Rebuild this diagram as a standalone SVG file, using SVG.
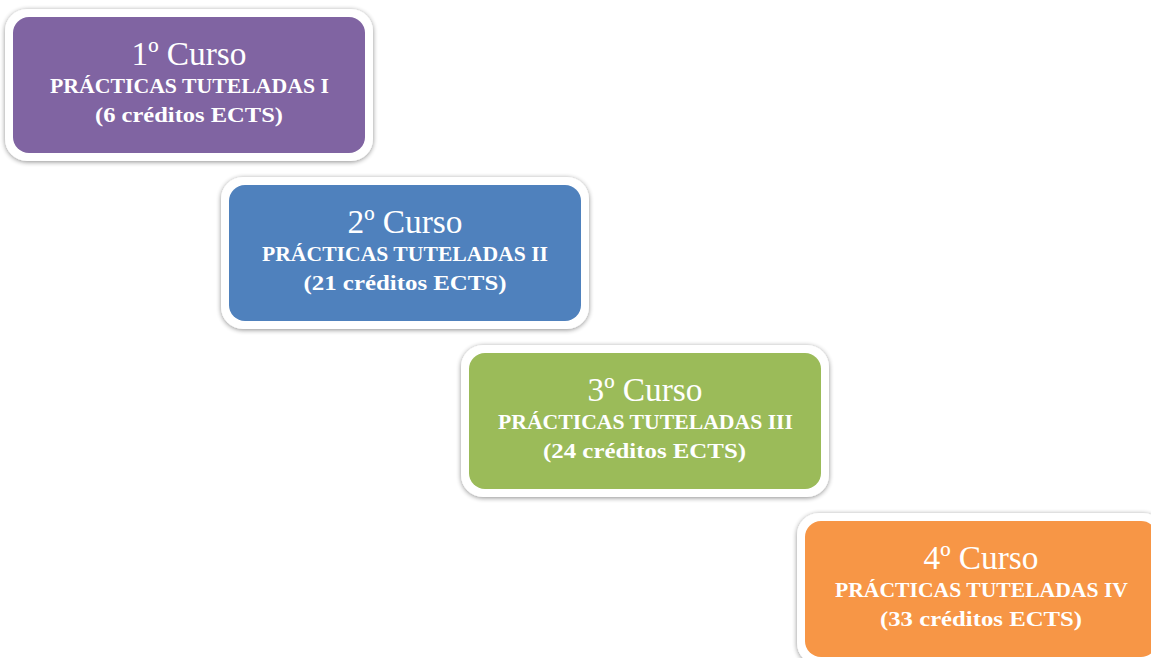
<svg xmlns="http://www.w3.org/2000/svg" width="1151" height="658" viewBox="0 0 1151 658">
<defs>
<filter id="sh" x="-10%" y="-20%" width="120%" height="140%">
<feGaussianBlur in="SourceAlpha" stdDeviation="2.5"/>
<feOffset dx="0" dy="1" result="b"/>
<feComponentTransfer><feFuncA type="linear" slope="0.45"/></feComponentTransfer>
<feMerge><feMergeNode/><feMergeNode in="SourceGraphic"/></feMerge>
</filter>
</defs>
<style>
.frame{fill:#ffffff;filter:url(#sh)}
.t1{font-family:"Liberation Serif","DejaVu Serif",serif;font-size:33px;fill:#ffffff;text-anchor:middle}
.t2{font-family:"Liberation Serif","DejaVu Serif",serif;font-size:20.5px;font-weight:bold;fill:#ffffff;text-anchor:middle}
</style>
<rect width="1151" height="658" fill="#ffffff"/>
<g id="node1">
<rect class="frame" x="5" y="9" width="368" height="152" rx="22"/>
<rect x="13" y="17" width="352" height="136" rx="16" fill="#8064A2"/>
<text class="t1" x="189" y="65" textLength="115" lengthAdjust="spacingAndGlyphs">1º Curso</text>
<text class="t2" x="189.5" y="93" textLength="279" lengthAdjust="spacingAndGlyphs">PRÁCTICAS TUTELADAS I</text>
<text class="t2" x="189" y="122" textLength="188" lengthAdjust="spacingAndGlyphs">(6 créditos ECTS)</text>
</g>
<g id="node2">
<rect class="frame" x="221" y="177" width="368" height="152" rx="22"/>
<rect x="229" y="185" width="352" height="136" rx="16" fill="#4F81BD"/>
<text class="t1" x="405" y="233" textLength="115" lengthAdjust="spacingAndGlyphs">2º Curso</text>
<text class="t2" x="405" y="261" textLength="286" lengthAdjust="spacingAndGlyphs">PRÁCTICAS TUTELADAS II</text>
<text class="t2" x="405" y="290" textLength="203" lengthAdjust="spacingAndGlyphs">(21 créditos ECTS)</text>
</g>
<g id="node3">
<rect class="frame" x="461" y="345" width="368" height="152" rx="22"/>
<rect x="469" y="353" width="352" height="136" rx="16" fill="#9BBB59"/>
<text class="t1" x="645" y="401" textLength="115" lengthAdjust="spacingAndGlyphs">3º Curso</text>
<text class="t2" x="645.5" y="429" textLength="295" lengthAdjust="spacingAndGlyphs">PRÁCTICAS TUTELADAS III</text>
<text class="t2" x="644.5" y="458" textLength="203" lengthAdjust="spacingAndGlyphs">(24 créditos ECTS)</text>
</g>
<g id="node4">
<rect class="frame" x="797" y="513" width="368" height="152" rx="22"/>
<rect x="805" y="521" width="352" height="136" rx="16" fill="#F79646"/>
<text class="t1" x="981" y="569" textLength="115" lengthAdjust="spacingAndGlyphs">4º Curso</text>
<text class="t2" x="981.5" y="597" textLength="293" lengthAdjust="spacingAndGlyphs">PRÁCTICAS TUTELADAS IV</text>
<text class="t2" x="981" y="626" textLength="202" lengthAdjust="spacingAndGlyphs">(33 créditos ECTS)</text>
</g>
<g id="connectors"/>
</svg>
